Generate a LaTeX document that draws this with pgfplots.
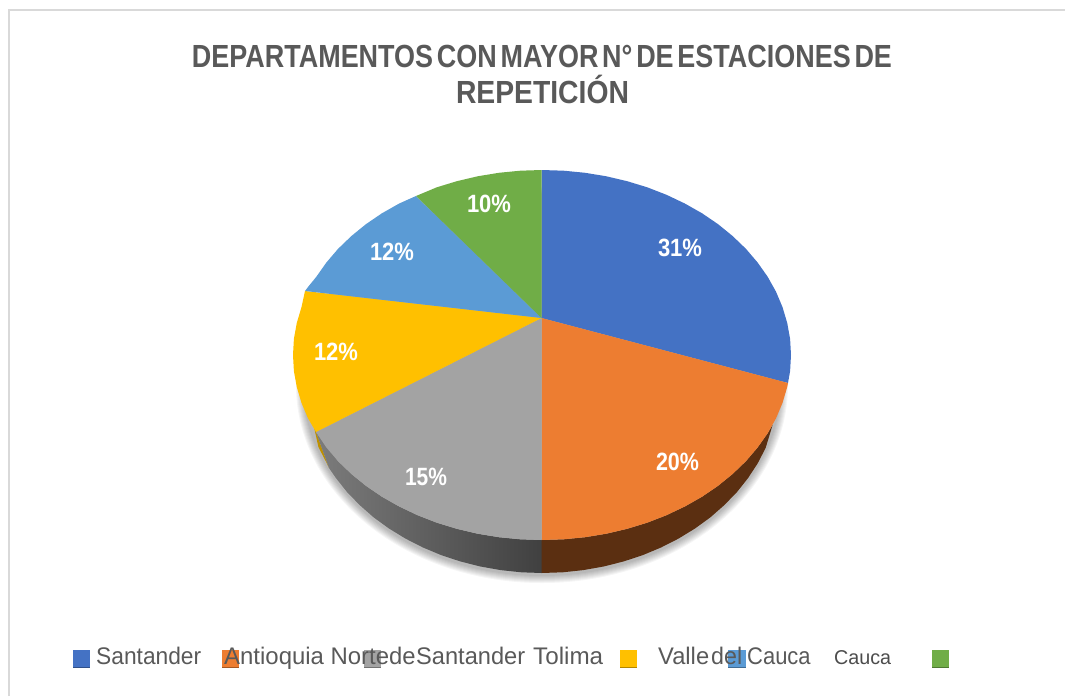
\documentclass[border=0pt]{standalone}
\usepackage{pgfplots}
\pgfplotsset{compat=1.18}
\usepackage{fontspec}
\usepackage{graphicx}
\setmainfont{Liberation Sans}
\definecolor{cblue}{HTML}{4472C4}
\definecolor{corange}{HTML}{ED7D31}
\definecolor{cgray}{HTML}{A3A3A3}
\definecolor{cyellow}{HTML}{FFC000}
\definecolor{clblue}{HTML}{5B9BD5}
\definecolor{cgreen}{HTML}{70AD47}
\definecolor{cbrown}{HTML}{5B2F11}
\definecolor{cdyellow}{HTML}{BE9000}
\definecolor{ctitle}{HTML}{595959}
\definecolor{cframe}{HTML}{D9D9D9}
\definecolor{wallA}{HTML}{7C7C7C}
\definecolor{wallB}{HTML}{404040}
\newcommand{\legsq}[3]{%
  \addplot[fill=#1,draw=none] coordinates {(#2,650)(#3,650)(#3,668)(#2,668)} --cycle;
  \addplot[draw=#1!70!black,line width=1pt] coordinates {(#2,667.5)(#3,667.5)};
}
\newcommand{\pct}[4]{\node[anchor=base,inner sep=0pt,text=white,font=\fontsize{25}{25}\selectfont\bfseries] at (axis cs:#1,#2) {\resizebox{#3pt}{\height}{#4}};}
\newcommand{\leg}[3]{\node[anchor=base west,inner sep=0pt,text=ctitle,font=\fontsize{24}{24}\selectfont] at (axis cs:#1,664) {\resizebox{#2pt}{\height}{#3}};}
\begin{document}
\begin{tikzpicture}
\begin{axis}[scale only axis,width=1065pt,height=696pt,xmin=0,xmax=1065,ymin=0,ymax=696,y dir=reverse,hide axis,clip=true]
% frame
\addplot[draw=cframe,line width=2pt] coordinates {(9,696)(9,10)(1065,10)};
% shadow
\pgfplotsinvokeforeach{1,...,8}{
  \fill[black,opacity=0.04] (axis cs:542,385) ellipse [x radius=238+#1,y radius=190+#1];
}
% side walls
\addplot[fill=cdyellow,draw=none] coordinates {(314,427)(316,432)(329,468)(326.3,462.3)(318.4,447)} --cycle;
\addplot[draw=none,left color=wallA,right color=wallB] coordinates {(316,432)(338,461.1)(351.3,473.9)(365.9,485.8)(381.9,496.7)(399.2,506.5)(417.5,515.2)(436.8,522.7)(456.8,528.8)(477.6,533.7)(498.8,537.2)(520.3,539.3)(542,540)
 (542,573)(521.3,572.3)(500.7,570.1)(480.4,566.5)(460.6,561.5)(441.4,555.2)(423,547.5)(405.5,538.6)(389,528.5)(373.7,517.4)(359.7,505.1)(347,492)(335.9,478)(329,468)} --cycle;
\addplot[fill=cbrown,draw=none] coordinates {(772.6,425)(767.7,433.2)(757.6,447.5)(746,461.1)(732.7,473.9)(718.1,485.8)(702.1,496.7)(684.8,506.5)(666.5,515.2)(647.2,522.7)(627.2,528.8)(606.4,533.7)(585.2,537.2)(563.7,539.3)(541.5,540)
 (541.5,573)(562.7,572.3)(583.3,570.1)(603.6,566.5)(623.4,561.5)(642.6,555.2)(661,547.5)(678.5,538.6)(695,528.5)(710.3,517.4)(724.3,505.1)(737,492)(748.1,478)(757.7,463.3)(765.6,448)} --cycle;
% top face
\addplot[fill=cblue,draw=none] coordinates {(541.5,318)(541.5,170)(563.7,170.7)(585.2,172.8)(606.4,176.3)(627.2,181.2)(647.2,187.3)(666.5,194.8)(684.8,203.5)(702.1,213.3)(718.1,224.2)(732.7,236.1)(746,248.9)(757.6,262.5)(767.7,276.8)(776,291.7)(782.5,307.1)(787.2,322.9)(790.1,338.9)(791,355)(790.1,371.1)(788,383)} --cycle;
\addplot[fill=corange,draw=none] coordinates {(541.5,318)(788,383)(787.2,387.1)(782.5,402.9)(776,418.3)(767.7,433.2)(757.6,447.5)(746,461.1)(732.7,473.9)(718.1,485.8)(702.1,496.7)(684.8,506.5)(666.5,515.2)(647.2,522.7)(627.2,528.8)(606.4,533.7)(585.2,537.2)(563.7,539.3)(541.5,540)} --cycle;
\addplot[fill=cgray,draw=none] coordinates {(541.5,318)(541.5,540)(520.3,539.3)(498.8,537.2)(477.6,533.7)(456.8,528.8)(436.8,522.7)(417.5,515.2)(399.2,506.5)(381.9,496.7)(365.9,485.8)(351.3,473.9)(338,461.1)(326.4,447.5)(316,432)} --cycle;
\addplot[fill=cyellow,draw=none] coordinates {(541.5,318)(316,432)(308,418.3)(301.5,402.9)(296.8,387.1)(293.9,371.1)(293,355)(293.9,338.9)(296.8,322.9)(301.5,307.1)(305,291)} --cycle;
\addplot[fill=clblue,draw=none] coordinates {(541.5,318)(305,291)(308,287)(316.3,276.8)(326.4,262.5)(338,248.9)(351.3,236.1)(365.9,224.2)(381.9,213.3)(399.2,203.5)(416,196)} --cycle;
\addplot[fill=cgreen,draw=none] coordinates {(541.5,318)(416,196)(436.8,187.3)(456.8,181.2)(477.6,176.3)(498.8,172.8)(520.3,170.7)(541.5,170)} --cycle;
% legend squares
\legsq{cblue}{73}{90}
\legsq{corange}{222}{239}
\legsq{cgray}{364}{381}
\legsq{cyellow}{620}{637}
\legsq{clblue}{728}{746}
\legsq{cgreen}{932}{949}
% title
\node[anchor=base,inner sep=0pt,text=ctitle,font=\fontsize{32}{32}\selectfont\bfseries] at (axis cs:542,67) {\resizebox{700pt}{\height}{\spaceskip=0.14em DEPARTAMENTOS CON MAYOR N° DE ESTACIONES DE}};
\node[anchor=base,inner sep=0pt,text=ctitle,font=\fontsize{32}{32}\selectfont\bfseries] at (axis cs:542.5,103) {\resizebox{173pt}{\height}{REPETICIÓN}};
% percentages
\pct{680}{256}{44}{31\%}
\pct{677.5}{470}{43}{20\%}
\pct{426}{485}{42}{15\%}
\pct{336}{360}{44}{12\%}
\pct{392}{260}{44}{12\%}
\pct{489}{212}{44}{10\%}
% legend texts
\leg{96}{105}{Santander}
\leg{224}{165}{Antioquia Norte}
\leg{389}{26.5}{de}
\leg{416}{109}{Santander}
\leg{533}{70}{Tolima}
\leg{658}{51}{Valle}
\leg{711}{31}{del}
\leg{747}{63.5}{Cauca}
\node[anchor=base west,inner sep=0pt,text=ctitle!85!black,font=\fontsize{20}{20}\selectfont] at (axis cs:834,664) {\resizebox{57pt}{\height}{Cauca}};
\end{axis}
\path (current axis.south west) rectangle (current axis.north east);
\end{tikzpicture}
\end{document}
